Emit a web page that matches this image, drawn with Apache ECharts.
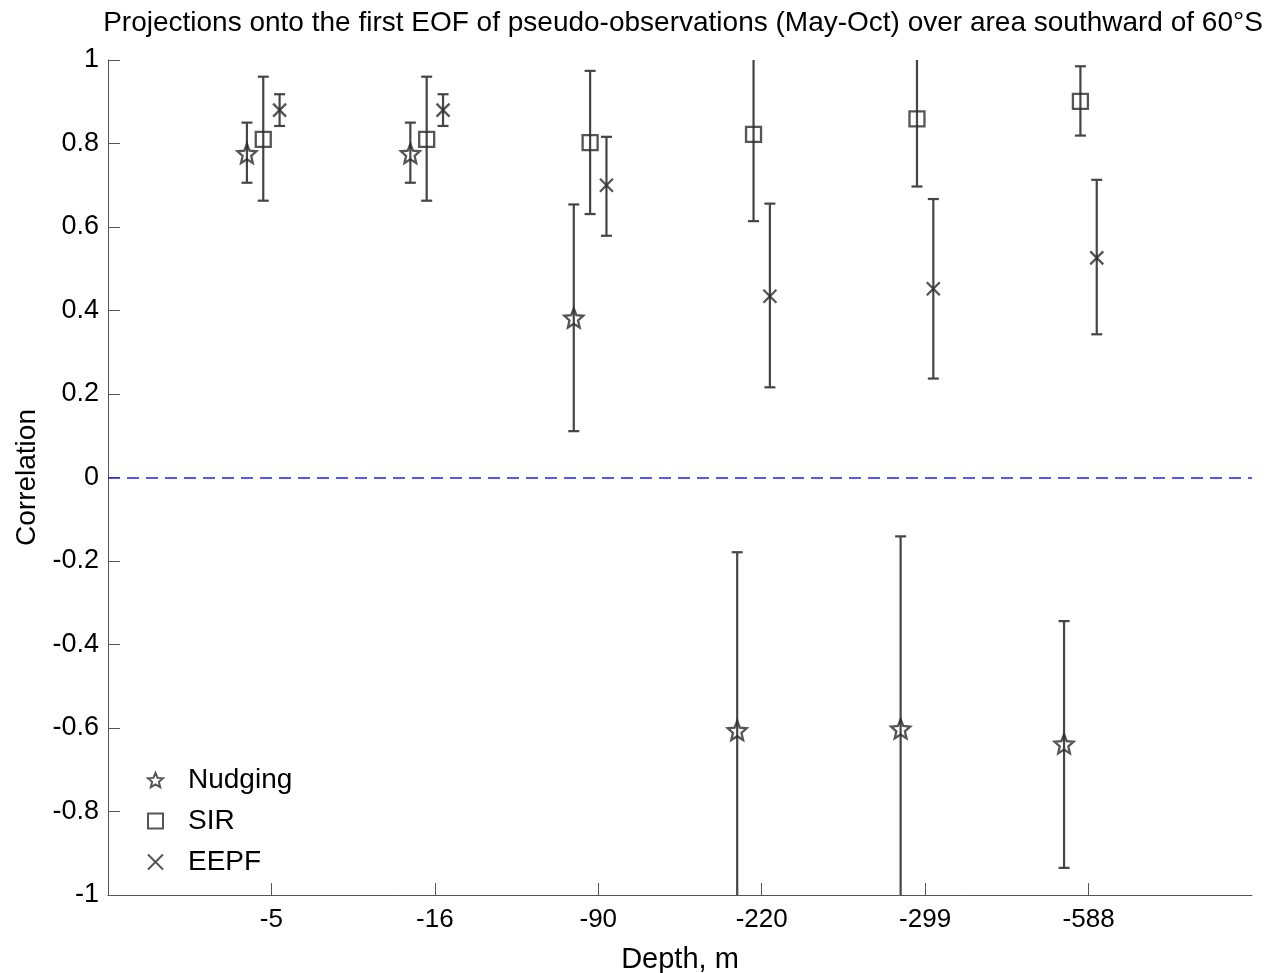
<!DOCTYPE html>
<html>
<head>
<meta charset="utf-8">
<script src="https://cdn.jsdelivr.net/npm/echarts@6/dist/echarts.min.js"></script>
<style>html,body{margin:0;padding:0;background:#fff}#c{width:1283px;height:973px}</style>
</head>
<body>
<div id="c"></div>
<script>
// ---- data ----
const depthLabels = ['-5', '-16', '-90', '-220', '-299', '-588'];
const seriesNames = ['Nudging', 'SIR', 'EEPF'];
const nudgingMean = [0.776, 0.776, 0.382, -0.606, -0.602, -0.638];
const nudgingLow  = [0.706, 0.706, 0.111, -1.12, -1.12, -0.935];
const nudgingHigh = [0.850, 0.850, 0.654, -0.179, -0.141, -0.344];
const sirMean = [0.810, 0.810, 0.802, 0.822, 0.859, 0.901];
const sirLow  = [0.663, 0.663, 0.631, 0.614, 0.697, 0.819];
const sirHigh = [0.960, 0.960, 0.974, 1.04, 1.03, 0.985];
const eepfMean = [0.880, 0.880, 0.700, 0.434, 0.452, 0.526];
const eepfLow  = [0.842, 0.842, 0.579, 0.216, 0.237, 0.343];
const eepfHigh = [0.918, 0.918, 0.816, 0.656, 0.667, 0.713];
const yTicks = [-1, -0.8, -0.6, -0.4, -0.2, 0, 0.2, 0.4, 0.6, 0.8, 1];
const zeroLine = 0;

// ---- layout/style ----
const FONT = "'Liberation Sans', Arial, Helvetica, sans-serif";
const offsets = [-0.15, -0.05, 0.05];
const barColor = '#454545';
const markColor = '#2b2b2b';

function starPath() {
  let d = 'path://';
  for (let i = 0; i < 10; i++) {
    const r = i % 2 === 0 ? 1 : 0.45;
    const a = -Math.PI / 2 + i * Math.PI / 5;
    d += (i === 0 ? 'M' : 'L') + (r * Math.cos(a)).toFixed(4) + ',' + (r * Math.sin(a)).toFixed(4);
  }
  return d + 'Z';
}
const symbols = [starPath(), 'rect', 'path://M0,0L1,1M1,0L0,1'];
const sizes = [19, 15, 13];

const means = [nudgingMean, sirMean, eepfMean];
const lows = [nudgingLow, sirLow, eepfLow];
const highs = [nudgingHigh, sirHigh, eepfHigh];

function errRender(params, api) {
  const x = api.value(0);
  const lo = api.coord([x, api.value(1)]);
  const hi = api.coord([x, api.value(2)]);
  const cs = params.coordSys;
  const top = cs.y, bot = cs.y + cs.height;
  const yHi = Math.max(hi[1], top), yLo = Math.min(lo[1], bot);
  const hw = 5.5;
  const st = {stroke: barColor, lineWidth: 2.2};
  const children = [{type: 'line', shape: {x1: lo[0], y1: yLo, x2: lo[0], y2: yHi}, style: st}];
  if (hi[1] >= top) children.push({type: 'line', shape: {x1: hi[0] - hw, y1: hi[1], x2: hi[0] + hw, y2: hi[1]}, style: st});
  if (lo[1] <= bot) children.push({type: 'line', shape: {x1: lo[0] - hw, y1: lo[1], x2: lo[0] + hw, y2: lo[1]}, style: st});
  return {type: 'group', children};
}

const series = [];
seriesNames.forEach((name, s) => {
  series.push({
    name: name + ' range', type: 'custom', renderItem: errRender, z: 2,
    data: depthLabels.map((_, i) => [i + 1 + offsets[s], lows[s][i], highs[s][i]]),
    encode: {x: 0, y: [1, 2]}, silent: true
  });
});
seriesNames.forEach((name, s) => {
  series.push({
    name, type: 'scatter', z: 3,
    symbol: symbols[s], symbolSize: sizes[s],
    itemStyle: {color: 'rgba(0,0,0,0)', borderColor: markColor, borderWidth: 2.3},
    data: depthLabels.map((_, i) => [i + 1 + offsets[s], means[s][i]])
  });
});
// zero reference line
series.push({
  name: 'zero', type: 'line', data: [], silent: true, z: 1,
  color: '#1f1fff',
  markLine: {
    silent: true, symbol: 'none', label: {show: false},
    lineStyle: {color: '#1f1fff', type: [12, 7], width: 1.5, opacity: 1},
    emphasis: {disabled: true},
    data: [{yAxis: zeroLine}]
  }
});

const chart = echarts.init(document.getElementById('c'), null, {renderer: 'canvas'});
chart.setOption({
  backgroundColor: '#fff',
  animation: false,
  textStyle: {fontFamily: FONT},
  title: {
    text: 'Projections onto the first EOF of pseudo-observations (May-Oct) over area southward of 60°S',
    left: 678, textAlign: 'center', top: 4,
    textStyle: {fontFamily: FONT, fontSize: 28, fontWeight: 'normal', color: '#000'}
  },
  legend: {
    orient: 'vertical', left: 142, top: 761,
    data: seriesNames, itemWidth: 15, itemHeight: 15, itemGap: 13,
    textStyle: {fontFamily: FONT, fontSize: 28, color: '#000', padding: [0, 0, 0, 20]},
    selectedMode: false
  },
  grid: {left: 108, right: 31, top: 60, bottom: 78, containLabel: false, outerBoundsMode: 'none'},
  xAxis: {
    type: 'value', min: 0, max: 7, interval: 1,
    name: 'Depth, m', nameLocation: 'middle', nameGap: 50,
    nameTextStyle: {fontFamily: FONT, fontSize: 29, color: '#000'},
    axisLine: {show: true, onZero: false, lineStyle: {color: '#555', width: 1}},
    axisTick: {show: true, inside: true, length: 12, lineStyle: {color: '#555'}, customValues: [1, 2, 3, 4, 5, 6]},
    axisLabel: {
      fontFamily: FONT, fontSize: 26, color: '#000', margin: 12,
      customValues: [1, 2, 3, 4, 5, 6],
      formatter: v => depthLabels[Math.round(v) - 1] || ''
    },
    splitLine: {show: false}
  },
  yAxis: {
    type: 'value', min: -1, max: 1, interval: 0.2,
    name: 'Correlation', nameLocation: 'middle', nameGap: 66, nameRotate: 90,
    nameTextStyle: {fontFamily: FONT, fontSize: 28, color: '#000'},
    axisLine: {show: true, lineStyle: {color: '#555', width: 1}},
    axisTick: {show: true, inside: true, length: 12, lineStyle: {color: '#555'}},
    axisLabel: {
      fontFamily: FONT, fontSize: 27, color: '#000', margin: 9,
      formatter: v => {
        const t = yTicks.reduce((a, b) => Math.abs(b - v) < Math.abs(a - v) ? b : a);
        return String(t);
      }
    },
    splitLine: {show: false}
  },
  series
});
</script>
</body>
</html>
